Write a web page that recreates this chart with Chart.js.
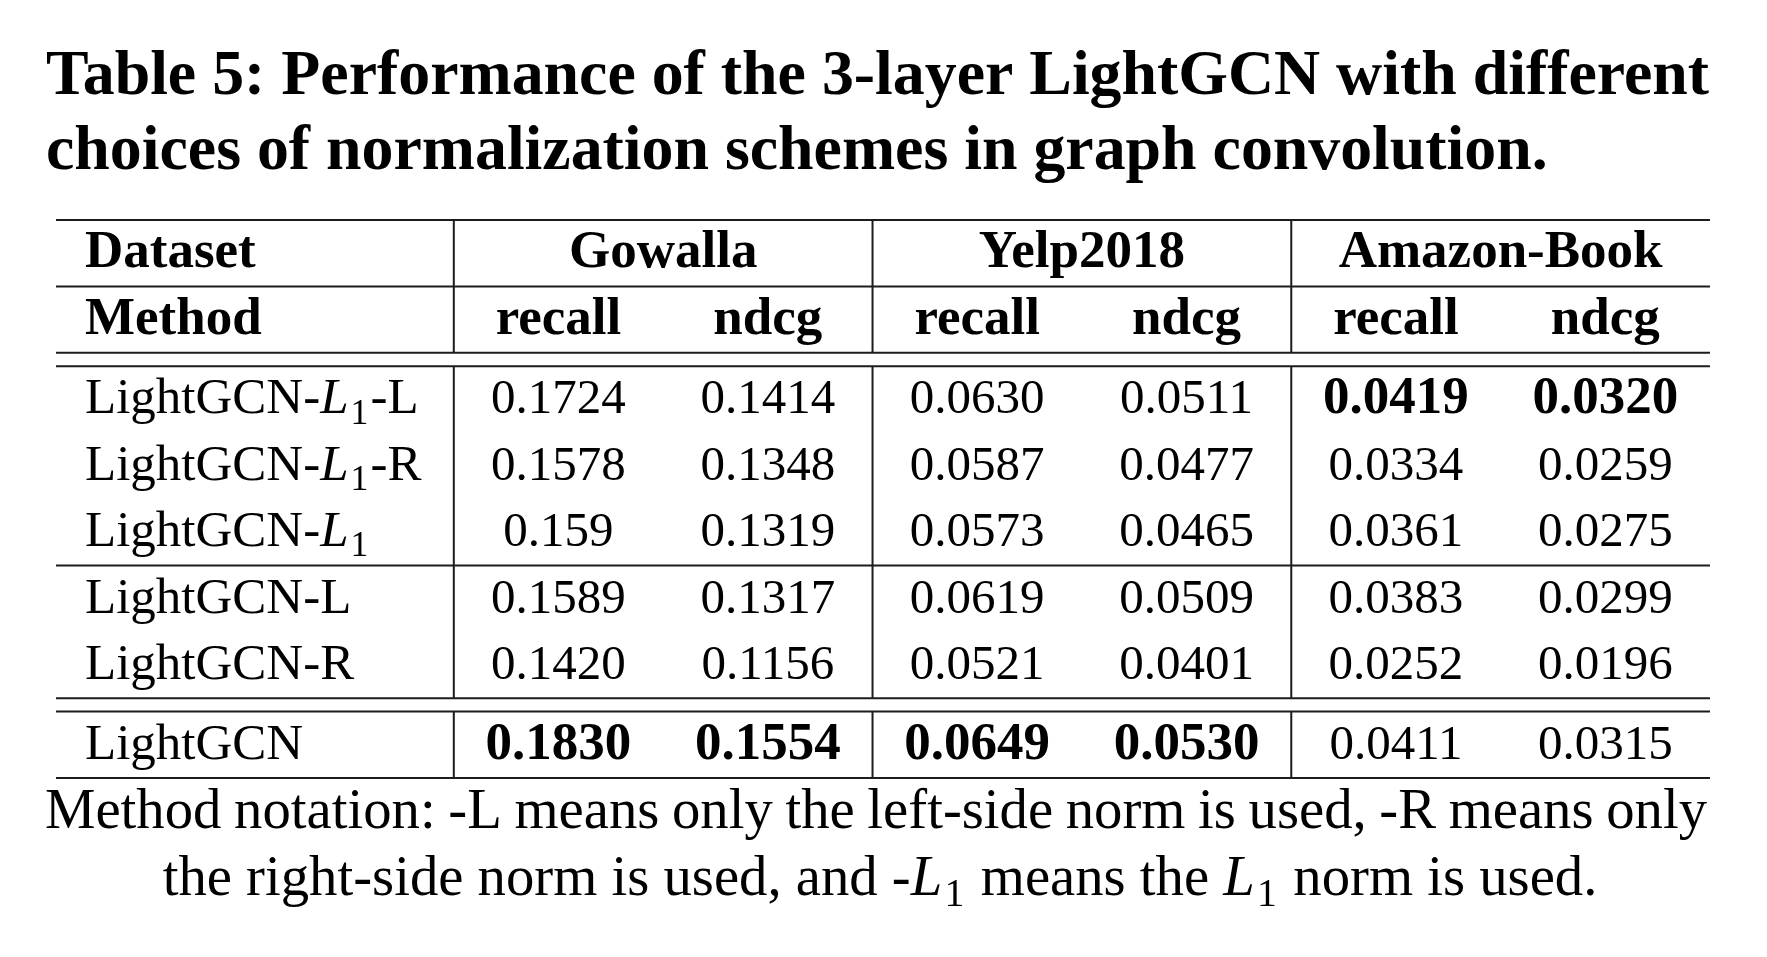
<!DOCTYPE html>
<html>
<head>
<meta charset="utf-8">
<script src="https://cdn.jsdelivr.net/npm/chart.js@4.4.1/dist/chart.umd.min.js"></script>
<style>
  html, body { margin: 0; background: #fff; }
  #wrap { width: 1767px; height: 957px; }
</style>
</head>
<body>
<div id="wrap"><canvas id="tbl" width="1767" height="957"></canvas></div>
<script>
// texts
const titleLines = ['Table 5: Performance of the 3-layer LightGCN with different',
                    'choices of normalization schemes in graph convolution.'];
const captionLines = ['Method notation: -L means only the left-side norm is used, -R means only',
                      'the right-side norm is used, and -L_1 means the L_1 norm is used.'];

// table data
const datasetNames = ['Gowalla', 'Yelp2018', 'Amazon-Book'];
const metricNames = ['recall', 'ndcg'];
const methods = ['LightGCN-L_1-L', 'LightGCN-L_1-R', 'LightGCN-L_1', 'LightGCN-L', 'LightGCN-R', 'LightGCN'];
const methodGroups = [3, 2, 1];
const gowallaRecall = ['0.1724', '0.1578', '0.159', '0.1589', '0.1420', '0.1830'];
const gowallaNdcg   = ['0.1414', '0.1348', '0.1319', '0.1317', '0.1156', '0.1554'];
const yelpRecall    = ['0.0630', '0.0587', '0.0573', '0.0619', '0.0521', '0.0649'];
const yelpNdcg      = ['0.0511', '0.0477', '0.0465', '0.0509', '0.0401', '0.0530'];
const amazonRecall  = ['0.0419', '0.0334', '0.0361', '0.0383', '0.0252', '0.0411'];
const amazonNdcg    = ['0.0320', '0.0259', '0.0275', '0.0299', '0.0196', '0.0315'];

const valueColumns = [gowallaRecall, gowallaNdcg, yelpRecall, yelpNdcg, amazonRecall, amazonNdcg];

const FONT = '"Liberation Serif", "DejaVu Serif", serif';
const INK = '#000';
const RULE = '#1c1c1c';
const firstCol = 1.9;      // width of method column in column units
const gap = 0.2;           // space between double rules, in row units

// row layout (in row units, top = 0)
const rowTops = [];
const groupEnds = [];
let yy = 2 + gap;
methodGroups.forEach((n, g) => {
  if (g === methodGroups.length - 1) yy += gap;
  for (let i = 0; i < n; i++) { rowTops.push(yy); yy += 1; }
  groupEnds.push(yy);
});
const yMax = yy;
const xMax = firstCol + valueColumns.length;

// cells built from the arrays above
const cells = [];
cells.push({ x: 0, y: 0, text: 'Dataset', bold: true, align: 'left' });
cells.push({ x: 0, y: 1, text: 'Method', bold: true, align: 'left' });
datasetNames.forEach((d, k) => {
  cells.push({ x: firstCol + 2 * k + 1, y: 0, text: d, bold: true, align: 'center' });
  metricNames.forEach((m, j) => {
    cells.push({ x: firstCol + 2 * k + j + 0.5, y: 1, text: m, bold: true, align: 'center' });
  });
});
methods.forEach((m, i) => {
  cells.push({ x: 0, y: rowTops[i], text: m, bold: false, align: 'left' });
});
valueColumns.forEach((col, c) => {
  const best = Math.max(...col.map(parseFloat));
  col.forEach((v, i) => {
    cells.push({ x: firstCol + c + 0.5, y: rowTops[i], text: v, bold: parseFloat(v) === best, align: 'center', num: true });
  });
});

// rules as line datasets
function seg(x0, y0, x1, y1) {
  return {
    type: 'line', data: [{ x: x0, y: y0 }, { x: x1, y: y1 }],
    borderColor: RULE, borderWidth: 2, pointRadius: 0, clip: false, tension: 0
  };
}
const ruleRows = [0, 1, 2, 2 + gap, groupEnds[0], groupEnds[1], groupEnds[1] + gap, yMax];
const lineSets = ruleRows.map(r => seg(0, r, xMax, r));
for (let k = 0; k < datasetNames.length; k++) {
  const xv = firstCol + 2 * k;
  lineSets.push(seg(xv, 0, xv, 2));
  lineSets.push(seg(xv, 2 + gap, xv, groupEnds[1]));
  lineSets.push(seg(xv, groupEnds[1] + gap, xv, yMax));
}

// rich text with italic L and subscript 1
function pieces(text) {
  return text.split(/(L_1)/).filter(s => s.length);
}
function richWidth(ctx, text, size, weight) {
  let w = 0;
  pieces(text).forEach(p => {
    if (p === 'L_1') {
      ctx.font = `italic ${weight} ${size}px ${FONT}`; w += ctx.measureText('L').width + size * 0.04;
      ctx.font = `${weight} ${size * 0.7}px ${FONT}`; w += ctx.measureText('1').width + size * 0.04;
    } else {
      ctx.font = `${weight} ${size}px ${FONT}`; w += ctx.measureText(p).width;
    }
  });
  return w;
}
function drawRich(ctx, text, x, y, size, weight, align) {
  const w = richWidth(ctx, text, size, weight);
  let cx = align === 'center' ? x - w / 2 : (align === 'right' ? x - w : x);
  ctx.textAlign = 'left';
  ctx.textBaseline = 'alphabetic';
  pieces(text).forEach(p => {
    if (p === 'L_1') {
      ctx.font = `italic ${weight} ${size}px ${FONT}`;
      ctx.fillText('L', cx, y); cx += ctx.measureText('L').width + size * 0.04;
      ctx.font = `${weight} ${size * 0.7}px ${FONT}`;
      ctx.fillText('1', cx, y + size * 0.2); cx += ctx.measureText('1').width + size * 0.04;
    } else {
      ctx.font = `${weight} ${size}px ${FONT}`;
      ctx.fillText(p, cx, y); cx += ctx.measureText(p).width;
    }
  });
}
function drawJustified(ctx, text, x0, x1, y, size, weight) {
  const words = text.split(' ');
  const ws = words.map(wd => richWidth(ctx, wd, size, weight));
  const space = (x1 - x0 - ws.reduce((a, b) => a + b, 0)) / (words.length - 1);
  let cx = x0;
  words.forEach((wd, i) => { drawRich(ctx, wd, cx, y, size, weight, 'left'); cx += ws[i] + space; });
}
function fitSize(ctx, text, target, weight) {
  return 100 * target / richWidth(ctx, text, 100, weight);
}

const tablePlugin = {
  id: 'tableText',
  afterDatasetsDraw(chart) {
    const ctx = chart.ctx;
    const xs = chart.scales.x, ys = chart.scales.y;
    const area = chart.chartArea;
    ctx.save();
    ctx.fillStyle = INK;
    cells.forEach(c => {
      const size = c.bold ? 53 : (c.num ? 49 : 51);
      const px = c.align === 'left' ? area.left + 29 : xs.getPixelForValue(c.x);
      const py = ys.getPixelForValue(c.y + 0.71);
      drawRich(ctx, c.text, px, py, size, c.bold ? 'bold' : 'normal', c.align);
    });

    // title
    const tSize = fitSize(ctx, titleLines[0], 1663, 'bold');
    drawJustified(ctx, titleLines[0], 46, 1709, 94, tSize, 'bold');
    drawRich(ctx, titleLines[1], 46, 169, tSize, 'bold', 'left');

    // caption
    const cSize = fitSize(ctx, captionLines[1], 1435, 'normal');
    drawJustified(ctx, captionLines[0], 45, 1707, 828, cSize, 'normal');
    drawRich(ctx, captionLines[1], 880, 895, cSize, 'normal', 'center');
    ctx.restore();
  }
};

new Chart(document.getElementById('tbl'), {
  type: 'scatter',
  data: { datasets: lineSets },
  options: {
    responsive: false,
    animation: false,
    layout: { padding: { left: 56, right: 57, top: 220, bottom: 179 } },
    plugins: { legend: { display: false }, tooltip: { enabled: false }, title: { display: false } },
    scales: {
      x: { type: 'linear', min: 0, max: xMax, display: false },
      y: { type: 'linear', min: 0, max: yMax, reverse: true, display: false }
    },
    events: []
  },
  plugins: [tablePlugin]
});
</script>
</body>
</html>
